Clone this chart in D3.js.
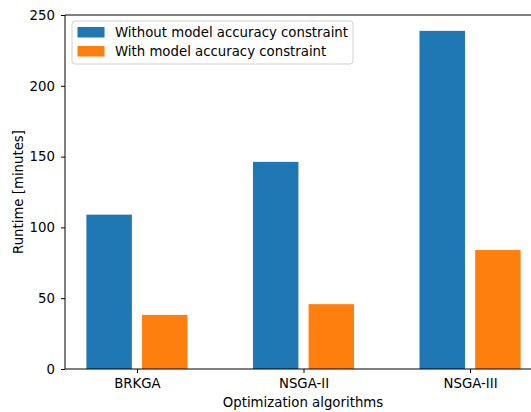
<!DOCTYPE html>
<html>
<head>
<meta charset="utf-8">
<script src="https://cdn.jsdelivr.net/npm/d3@7"></script>
<style>
  html, body { margin: 0; padding: 0; background: #fff; }
  svg { display: block; font-family: "DejaVu Sans", sans-serif; }
</style>
</head>
<body>
<svg id="chart" width="531" height="412"></svg>
<script>
// Runtime per optimization algorithm
const algorithms = ["BRKGA", "NSGA-II", "NSGA-III"];
const seriesNames = ["Without model accuracy constraint", "With model accuracy constraint"];
const withoutConstraint = [109, 146.3, 238.8];
const withConstraint = [38.2, 45.8, 84.0];
const yTicks = [0, 50, 100, 150, 200, 250];
const colors = ["#1f77b4", "#ff7f0e"];

const svg = d3.select("#chart");
const H = 412;
const fontSize = 13.3;
const margin = { left: 65, top: 15, bottom: 43 };
const plotBottom = H - margin.bottom;   // 369
const plotRight = 542;                  // axes extend past the figure edge

// positional index scale: categories at 0,1,2 with limits [-0.432, 2.432]
const x = d3.scaleLinear().domain([-0.432, 2.432]).range([margin.left, plotRight]);
const y = d3.scaleLinear().domain([0, 250]).range([plotBottom, margin.top]);

const barW = 0.273;
const offset = 0.167;

const series = [withoutConstraint, withConstraint];
series.forEach((vals, si) => {
  svg.append("g").selectAll("rect")
    .data(vals)
    .join("rect")
    .attr("x", (d, i) => x(i + (si === 0 ? -offset : offset) - barW / 2))
    .attr("width", x(barW) - x(0))
    .attr("y", d => y(d))
    .attr("height", d => y(0) - y(d))
    .attr("fill", colors[si]);
});

// spines
const frame = svg.append("g").attr("stroke", "#000").attr("stroke-width", 1).attr("fill", "none");
frame.append("line").attr("x1", margin.left).attr("x2", margin.left).attr("y1", margin.top).attr("y2", plotBottom);
frame.append("line").attr("x1", margin.left).attr("x2", plotRight).attr("y1", margin.top).attr("y2", margin.top);
frame.append("line").attr("x1", margin.left).attr("x2", plotRight).attr("y1", plotBottom).attr("y2", plotBottom);
frame.append("line").attr("x1", plotRight).attr("x2", plotRight).attr("y1", margin.top).attr("y2", plotBottom);

// y axis
const yAxis = svg.append("g")
  .attr("transform", `translate(${margin.left},0)`)
  .call(d3.axisLeft(y).tickValues(yTicks).tickSize(4).tickPadding(6).tickFormat(d3.format("d")));
yAxis.select(".domain").remove();
yAxis.selectAll("text").attr("font-size", fontSize).attr("fill", "#000").attr("font-family", "DejaVu Sans");

// x axis
const xAxis = svg.append("g")
  .attr("transform", `translate(0,${plotBottom})`)
  .call(d3.axisBottom(x).tickValues([0, 1, 2]).tickSize(4).tickPadding(6).tickFormat(i => algorithms[i]));
xAxis.select(".domain").remove();
xAxis.selectAll("text").attr("font-size", fontSize).attr("fill", "#000").attr("font-family", "DejaVu Sans");

// axis titles
svg.append("text")
  .attr("x", 303).attr("y", 407)
  .attr("text-anchor", "middle")
  .attr("font-size", fontSize)
  .text("Optimization algorithms");

svg.append("text")
  .attr("transform", `translate(23,${(margin.top + plotBottom) / 2}) rotate(-90)`)
  .attr("text-anchor", "middle")
  .attr("font-size", fontSize)
  .text("Runtime [minutes]");

// legend
const legend = svg.append("g").attr("transform", "translate(72,21)");
legend.append("rect")
  .attr("width", 281).attr("height", 43)
  .attr("rx", 3).attr("ry", 3)
  .attr("fill", "#fff").attr("fill-opacity", 0.8)
  .attr("stroke", "#d0d0d0").attr("stroke-width", 1);
seriesNames.forEach((name, i) => {
  const row = legend.append("g").attr("transform", `translate(0,${6 + i * 19})`);
  row.append("rect").attr("x", 5.5).attr("y", 0).attr("width", 27).attr("height", 10.5).attr("fill", colors[i]);
  row.append("text").attr("x", 43).attr("y", 10).attr("font-size", fontSize).text(name);
});
</script>
</body>
</html>
